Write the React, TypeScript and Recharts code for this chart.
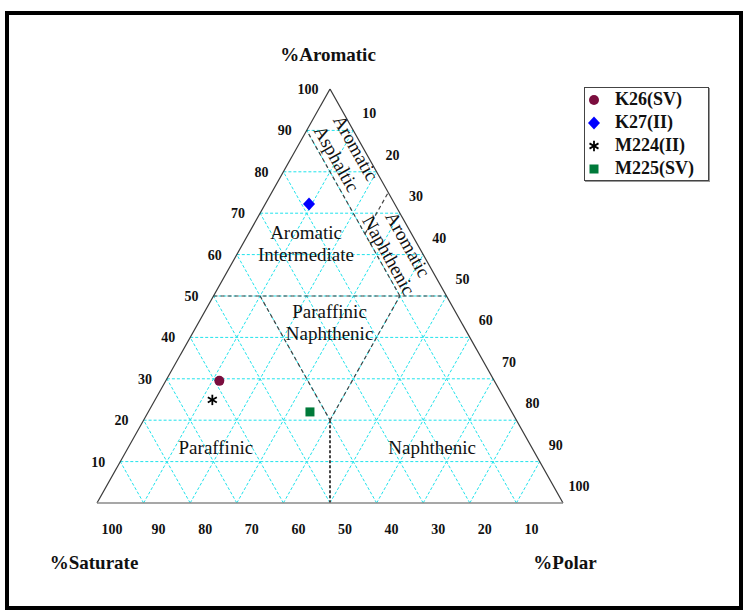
import React from 'react';
import { Legend, ReferenceLine, Scatter, ScatterChart, XAxis, YAxis } from 'recharts';

// samples, in ternary percent (Saturate + Aromatic + Polar = 100)
const SAMPLES = ['K26(SV)', 'K27(II)', 'M224(II)', 'M225(SV)'];
const SATURATE = [59, 18.4, 62.8, 43.3];
const AROMATIC = [29.5, 72.2, 24.9, 22];
const POLAR = [11.5, 9.4, 12.3, 34.7];
const COLORS = ['#7b0d3e', '#0000ff', '#000000', '#007a3a'];
const MARKERS = ['circle', 'diamond', 'star', 'square'];

const GRID_STEPS = [10, 20, 30, 40, 50, 60, 70, 80, 90];
const AXIS_TICKS = [10, 20, 30, 40, 50, 60, 70, 80, 90, 100];

// class boundaries, as [S, A, P] end points
const BOUNDARIES: [number, number, number][][] = [
  [[50, 50, 0], [0, 50, 50]],
  [[40, 50, 10], [40, 20, 40]],
  [[40, 20, 40], [10, 50, 40]],
  [[40, 20, 40], [50, 0, 50]],
  [[10, 50, 40], [10, 90, 0]],
  [[10, 65, 25], [0, 75, 25]],
];

const REGION_NAMES = [
  ['Aromatic', 'Intermediate'],
  ['Paraffinic', 'Naphthenic'],
  ['Paraffinic'],
  ['Naphthenic'],
  ['Aromatic', 'Asphaltic'],
  ['Aromatic', 'Naphthenic'],
];
// label anchor in chart units (x along base, y = %Aromatic)
const REGION_ANCHORS = [
  { x: 44.85, y: 62.6, rot: 0 },
  { x: 49.9, y: 43.4, rot: 0 },
  { x: 25.5, y: 13.3, rot: 0 },
  { x: 71.9, y: 13.3, rot: 0 },
  { x: 53.4, y: 84.4, rot: 60.6 },
  { x: 64.6, y: 61.1, rot: 60.6 },
];

const SERIF = '"Liberation Serif", "Times New Roman", serif';
const GRID_COLOR = '#1fe3ec';
const EDGE_COLOR = '#3a3a3a';

const toXY = (s: number, a: number, p: number) => ({ x: p + a / 2, y: a });

function gridSegments() {
  const segs: { x: number; y: number }[][] = [];
  GRID_STEPS.forEach((k) => {
    segs.push([toXY(100 - k, k, 0), toXY(0, k, 100 - k)]); // aromatic = k
    segs.push([toXY(100 - k, 0, k), toXY(0, 100 - k, k)]); // polar = k
    segs.push([toXY(k, 0, 100 - k), toXY(k, 100 - k, 0)]); // saturate = k
  });
  return segs;
}

const EDGES = [
  [toXY(100, 0, 0), toXY(0, 100, 0)],
  [toXY(0, 100, 0), toXY(0, 0, 100)],
];
const BASE = [toXY(100, 0, 0), toXY(0, 0, 100)];

const leftTicks = AXIS_TICKS.map((k) => ({ ...toXY(100 - k, k, 0), label: k }));
const rightTicks = AXIS_TICKS.map((k) => ({ ...toXY(0, 100 - k, k), label: k }));
const bottomTicks = AXIS_TICKS.map((k) => ({ ...toXY(k, 0, 100 - k), label: k }));

const tickShape = (dx: number, dy: number) => (props: any) => (
  <text
    x={props.cx + dx}
    y={props.cy + dy + 5}
    textAnchor="middle"
    fontFamily={SERIF}
    fontWeight="bold"
    fontSize={14}
    fill="#111"
  >
    {props.payload.label}
  </text>
);

const regionData = REGION_ANCHORS.map((r, i) => ({ ...r, lines: REGION_NAMES[i] }));

const regionShape = (props: any) => {
  const { cx, cy, payload } = props;
  const lines: string[] = payload.lines;
  const gap = 22;
  const start = -((lines.length - 1) * gap) / 2;
  return (
    <g transform={`translate(${cx},${cy}) rotate(${payload.rot})`}>
      {lines.map((t, i) => (
        <text
          key={t + i}
          x={0}
          y={start + i * gap + 6}
          textAnchor="middle"
          fontFamily={SERIF}
          fontSize={19}
          fill="#111"
        >
          {t}
        </text>
      ))}
    </g>
  );
};

function Marker({ type, cx, cy, color }: { type: string; cx: number; cy: number; color: string }) {
  if (type === 'circle') return <circle cx={cx} cy={cy} r={5} fill={color} />;
  if (type === 'diamond')
    return <polygon points={`${cx},${cy - 6.5} ${cx + 6},${cy} ${cx},${cy + 6.5} ${cx - 6},${cy}`} fill={color} />;
  if (type === 'square') return <rect x={cx - 4.5} y={cy - 4.5} width={9} height={9} fill={color} />;
  const arms = [90, 30, 150].map((deg) => {
    const r = (deg * Math.PI) / 180;
    const dx = Math.cos(r) * 5.2;
    const dy = Math.sin(r) * 5.2;
    return <line key={deg} x1={cx - dx} y1={cy - dy} x2={cx + dx} y2={cy + dy} stroke={color} strokeWidth={1.8} />;
  });
  return <g>{arms}</g>;
}

const renderLegend = () => (
  <div
    style={{
      width: 125,
      height: 94,
      boxSizing: 'border-box',
      border: '1px solid #444',
      boxShadow: '1px 1px 0 #999',
      background: '#fff',
      fontFamily: SERIF,
      fontWeight: 'bold',
      fontSize: 18,
      color: '#111',
    }}
  >
    {SAMPLES.map((name, i) => (
      <div key={name} style={{ display: 'flex', alignItems: 'center', height: 23 }}>
        <svg width={20} height={16} style={{ display: 'block' }}>
          <Marker type={MARKERS[i]} cx={9} cy={8} color={COLORS[i]} />
        </svg>
        <span style={{ marginLeft: 10, lineHeight: '23px' }}>{name}</span>
      </div>
    ))}
  </div>
);

export default function App() {
  return (
    <div style={{ position: 'absolute', left: 0, top: 0, width: 743, height: 613, background: '#fff' }}>
      <div
        style={{
          position: 'absolute',
          left: 5,
          top: 11,
          width: 738,
          height: 599,
          boxSizing: 'border-box',
          border: '4px solid #000',
        }}
      />
      <ScatterChart width={743} height={613} margin={{ top: 89, right: 180, bottom: 110, left: 97 }}>
        <XAxis type="number" dataKey="x" domain={[0, 100]} hide />
        <YAxis type="number" dataKey="y" domain={[0, 100]} hide />
        {gridSegments().map((seg, i) => (
          <ReferenceLine key={'g' + i} segment={seg} stroke={GRID_COLOR} strokeWidth={1} strokeDasharray="3 2" />
        ))}
        {BOUNDARIES.map(([a, b], i) => (
          <ReferenceLine
            key={'b' + i}
            segment={[toXY(a[0], a[1], a[2]), toXY(b[0], b[1], b[2])]}
            stroke="#444"
            strokeWidth={i === 3 ? 2 : 1.2}
            strokeDasharray={i === 3 ? '3 2' : '4 3'}
          />
        ))}
        {EDGES.map((seg, i) => (
          <ReferenceLine key={'e' + i} segment={seg} stroke={EDGE_COLOR} strokeWidth={1.2} />
        ))}
        <ReferenceLine segment={BASE} stroke="#8a8a8a" strokeWidth={1.6} />
        <Scatter data={leftTicks} shape={tickShape(-22, 0)} isAnimationActive={false} legendType="none" />
        <Scatter data={rightTicks} shape={tickShape(16, -17)} isAnimationActive={false} legendType="none" />
        <Scatter data={bottomTicks} shape={tickShape(15, 26)} isAnimationActive={false} legendType="none" />
        <Scatter data={regionData} shape={regionShape} isAnimationActive={false} legendType="none" />
        {SAMPLES.map((name, i) => (
          <Scatter
            key={name}
            name={name}
            data={[toXY(SATURATE[i], AROMATIC[i], POLAR[i])]}
            fill={COLORS[i]}
            isAnimationActive={false}
            shape={(p: any) => <Marker type={MARKERS[i]} cx={p.cx} cy={p.cy} color={COLORS[i]} />}
          />
        ))}
        <Legend
          layout="vertical"
          align="center"
          verticalAlign="middle"
          content={renderLegend}
          wrapperStyle={{ left: 584, top: 87, width: 125 }}
        />
        <text x={328} y={61} textAnchor="middle" fontFamily={SERIF} fontWeight="bold" fontSize={19} fill="#111">
          %Aromatic
        </text>
        <text x={94} y={569} textAnchor="middle" fontFamily={SERIF} fontWeight="bold" fontSize={19} fill="#111">
          %Saturate
        </text>
        <text x={565} y={569} textAnchor="middle" fontFamily={SERIF} fontWeight="bold" fontSize={19} fill="#111">
          %Polar
        </text>
      </ScatterChart>
    </div>
  );
}
